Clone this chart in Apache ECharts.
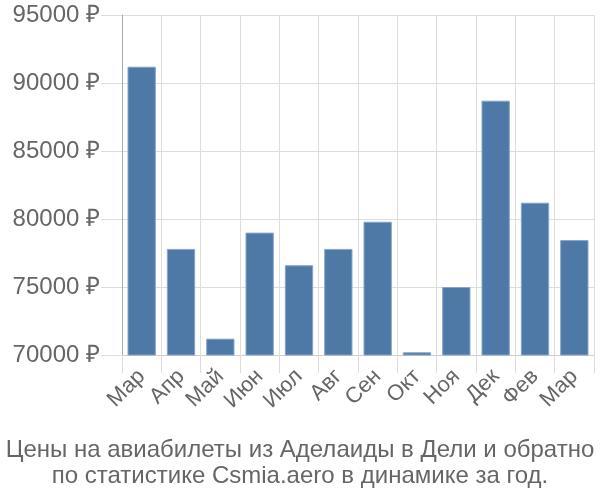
<!DOCTYPE html>
<html><head><meta charset="utf-8">
<script src="https://cdn.jsdelivr.net/npm/echarts@6/dist/echarts.min.js"></script>
<style>html,body{margin:0;padding:0;background:#fff}#c{width:600px;height:500px}</style>
</head><body><div id="c"></div>
<script>
const months = ['Мар','Апр','Май','Июн','Июл','Авг','Сен','Окт','Ноя','Дек','Фев','Мар'];
const prices = [91200, 77800, 71200, 79000, 76600, 77800, 79800, 70200, 75000, 88700, 81200, 78450];
const yTicks = [70000, 75000, 80000, 85000, 90000, 95000];
const titleLines = ['Цены на авиабилеты из Аделаиды в Дели и обратно', 'по статистике Csmia.aero в динамике за год.'];

const chart = echarts.init(document.getElementById('c'), null, {renderer:'canvas'});
chart.setOption({
  animation:false,
  title:{
    text: titleLines.join('\n'),
    left:'center', top:432,
    textStyle:{fontFamily:'Liberation Sans', fontSize:24, fontWeight:'normal', color:'#666', lineHeight:26}
  },
  grid:{left:122, right:6, top:15, bottom:145},
  xAxis:{
    type:'category', data:months,
    axisLine:{lineStyle:{color:'#ccc', width:1}},
    axisTick:{show:true, length:18, lineStyle:{color:'#ddd', width:1}},
    splitLine:{show:true, lineStyle:{color:'#ddd', width:1}},
    axisLabel:{rotate:45, fontFamily:'Liberation Sans', fontSize:22, color:'#666', margin:18, interval:0}
  },
  yAxis:{
    type:'value', min:yTicks[0], max:yTicks[yTicks.length-1], interval:5000,
    axisLine:{show:true, lineStyle:{color:'#aaa', width:1}},
    axisTick:{show:true, length:21, lineStyle:{color:'#ddd', width:1}},
    splitLine:{show:true, lineStyle:{color:'#ddd', width:1}},
    axisLabel:{fontFamily:'Liberation Sans', fontSize:24, color:'#666', margin:22, formatter: v => v + ' ₽'}
  },
  series:[{
    type:'bar', data:prices, barCategoryGap:'28%',
    itemStyle:{color:'#4e79a7', borderColor:'#86a5c8', borderWidth:1}
  }]
});
</script></body></html>
